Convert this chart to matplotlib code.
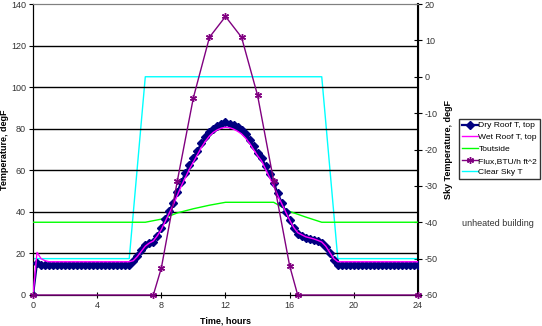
import matplotlib
matplotlib.use("Agg")
import matplotlib.pyplot as plt
import numpy as np

plt.rcParams['font.family'] = ['Liberation Sans', 'DejaVu Sans']
plt.rcParams['axes.unicode_minus'] = False

# Time axis (hours) for roof temperatures, every 15 min
t_roof = [i * 0.25 for i in range(97)]

dry_roof = ([0, 15.5] + [14.5] * 23 +
            [16.5, 19, 21.5, 24, 25, 25.5, 28.5, 32, 36.5, 40.5, 44.5, 49.5,
             54.5, 58.5, 62.5, 66, 69.5, 73, 76, 78.5, 80, 81.3, 82.3, 83,
             82.5, 81.8, 80.8, 79.4, 77.5, 74.5, 71.5, 68.5, 66, 62, 58, 54,
             49, 44.5, 40, 36, 32, 29.5, 28.3, 27.5, 27, 26.3, 25.8, 25,
             23, 20, 17, 14.5] + [14.5] * 20)

wet_roof = ([0, 20.5, 17.5, 16.5] + [16] * 21 +
            [16.5, 18.5, 21, 23.5, 25, 26, 28.5, 31.5, 35.5, 39.5, 43.5, 48,
             52.5, 56.5, 60.5, 64, 67.5, 71, 74, 76.5, 78.3, 79.5, 80.3, 80.7,
             80.5, 79.8, 78.8, 77.5, 75.5, 73, 70, 67, 64.5, 60.5, 56.5, 52.5,
             48, 44, 40, 36, 32.5, 30, 29, 28, 27.5, 27, 26.3, 25.5,
             23.5, 20.5, 17.5, 16] + [16] * 20)

t_out = [0, 7, 8, 9, 10, 11, 12, 13, 14, 15, 16, 17, 18, 24]
t_outside = [35, 35, 36.5, 39.5, 41.5, 43.2, 44.6, 44.6, 44.6, 44.6, 40.2, 37.5, 35, 35]

t_flux = [0, 7.5, 8, 9, 10, 11, 12, 13, 14, 15, 16, 16.5, 24]
flux = [0, 0, 13, 55, 95, 124, 134, 124, 96, 55, 14, 0, 0]

t_sky = [0, 6, 7, 18, 19, 24]
sky_t = [-50, -50, 0, 0, -50, -50]

labels = ["Dry Roof T, top", "Wet Roof T, top", "Toutside",
          "Flux,BTU/h ft^2", "Clear Sky T"]

fig = plt.figure(figsize=(5.42, 3.26), dpi=100)
ax = fig.add_axes([33/542, 1-295/326, (418-33)/542, (295-4)/326])
ax2 = ax.twinx()

fs = 6.5
ax.set_xlim(0, 24)
ax.set_ylim(0, 140)
ax.set_xticks(range(0, 25, 4))
ax.set_yticks(range(0, 141, 20))
for y in range(20, 121, 20):
    ax.axhline(y, color='black', lw=1, zorder=0)

h1, = ax.plot(t_roof, dry_roof, color='#000080', lw=1.6, marker='D',
              markersize=3.8, zorder=4)
h2, = ax.plot(t_roof, wet_roof, color='#FF00FF', lw=1, zorder=5)
h3, = ax.plot(t_out, t_outside, color='#00FF00', lw=1, zorder=3)
h4, = ax.plot(t_flux, flux, color='#800080', lw=1, marker=(6, 2, 0),
              markersize=5, markeredgewidth=1, zorder=6, clip_on=False)
ax2.set_ylim(-60, 20)
ax2.set_yticks(range(-60, 21, 10))
h5, = ax2.plot(t_sky, sky_t, color='#00FFFF', lw=1)
ax.set_zorder(ax2.get_zorder() + 1)
ax.patch.set_visible(False)

for a in (ax, ax2):
    a.spines['top'].set_color('#808080')
    a.spines['left'].set_color('black')
    a.spines['bottom'].set_color('black')
ax2.spines['right'].set_linewidth(1.5)

ax.tick_params(axis='both', labelsize=fs, length=3, width=0.8, colors='black',
               labelcolor='#333333', pad=2)
ax.tick_params(axis='x', direction='inout', length=5)
ax2.tick_params(axis='y', labelsize=fs, direction='inout', length=6, width=0.8,
                labelcolor='#333333', pad=2)

ax.set_xlabel("Time, hours", fontsize=fs, fontweight='bold', labelpad=4)
ax.set_ylabel("Temperature, degF", fontsize=fs, fontweight='bold', labelpad=4)
ax2.set_ylabel("Sky Temperature, degF", fontsize=fs, fontweight='bold', labelpad=4)
ax.xaxis.set_label_coords(0.5, -0.075)
ax.yaxis.set_label_coords(-0.062, 0.5)

leg = fig.legend([h1, h2, h3, h4, h5], labels, loc='upper left',
                 bbox_to_anchor=(459/542, 1-119/326), fontsize=6.1,
                 frameon=True, fancybox=False, edgecolor='black',
                 handlelength=1.9, handletextpad=0.1, labelspacing=0.45,
                 borderpad=0.3, borderaxespad=0)
leg.get_frame().set_linewidth(1)

fig.text(462/542, 1-223/326, "unheated building", fontsize=fs,
         ha='left', va='center', color='#333333')

fig.savefig("out.png", dpi=100)
